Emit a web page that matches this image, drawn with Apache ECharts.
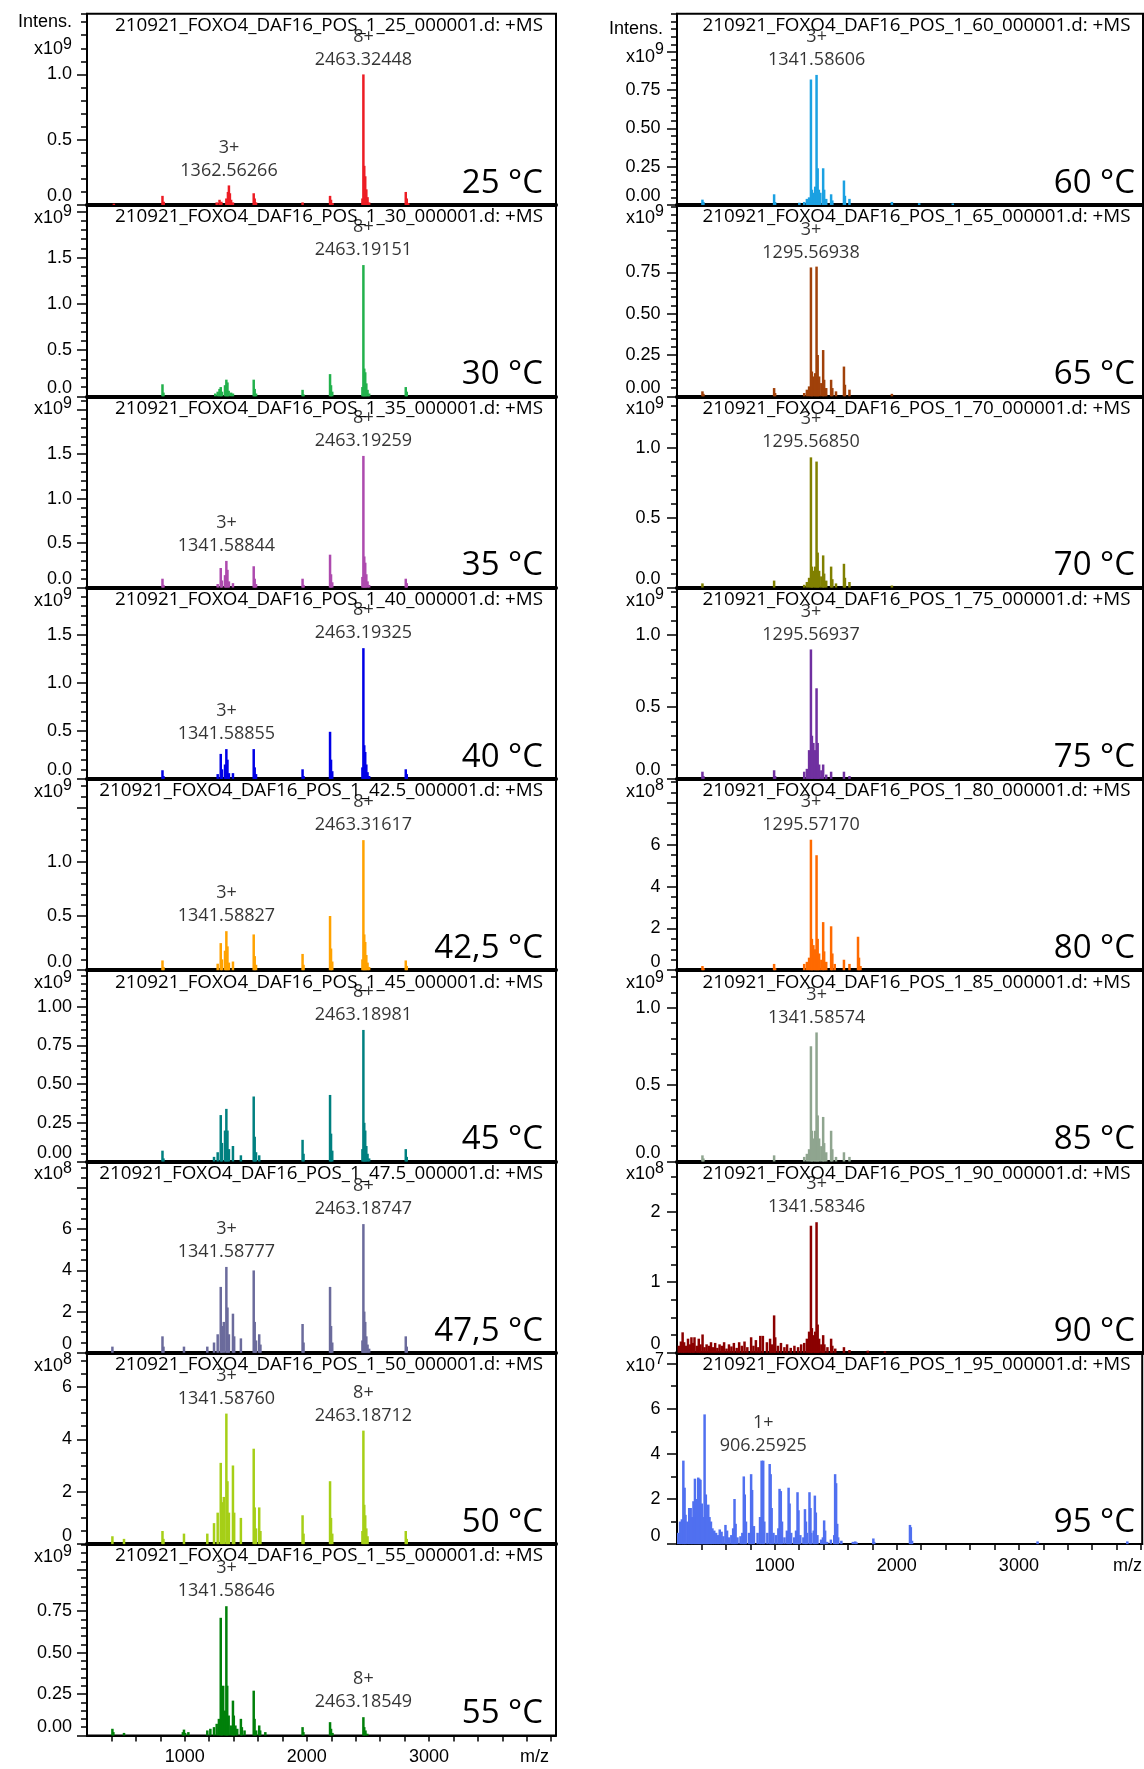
<!DOCTYPE html>
<html><head><meta charset="utf-8">
<script src="https://cdn.jsdelivr.net/npm/echarts@6/dist/echarts.min.js"></script>
<style>html,body{margin:0;padding:0;background:#fff}#c{width:1144px;height:1769px}</style>
</head><body><div id="c"></div><script>
// ---------- data ----------
const TEMPS_L = ['25','30','35','40','42.5','45','47.5','50','55'];
const TEMPS_R = ['60','65','70','75','80','85','90','95'];
const COLORS_L = ['#ed1c24','#22b14c','#ad4aae','#0000e6','#ffa200','#008080','#6b6b9c','#a6cf17','#00800a'];
const COLORS_R = ['#1ba1e2','#a0410a','#808000','#7030a0','#ff6a00','#8fa58f','#8b0000','#5070f0'];
// y axis: top value, labelled step, minor tick step, highest labelled value, power of ten
const YMAX_L = [1.465, 2.07, 2.15, 1.99, 1.765, 1.236, 9.29, 7.3, 1.155];
const YMAJ_L = [0.5, 0.5, 0.5, 0.5, 0.5, 0.25, 2, 2, 0.25];
const YMIN_L = [0.1, 0.1, 0.1, 0.1, 0.1, 0.05, 0.5, 0.5, 0.05];
const YLAB_L = [1.0, 1.5, 1.5, 1.5, 1.0, 1.0, 6, 6, 0.75];
const EXP_L  = [9, 9, 9, 9, 9, 9, 8, 8, 9];
const YMAX_R = [1.25, 1.158, 1.366, 1.33, 9.15, 1.245, 2.71, 8.48];
const YMAJ_R = [0.25, 0.25, 0.5, 0.5, 2, 0.5, 1, 2];
const YMIN_R = [0.05, 0.05, 0.1, 0.1, 0.5, 0.1, 0.25, 1];
const YLAB_R = [0.75, 0.75, 1.0, 1.0, 6, 1.0, 2, 6];
const EXP_R  = [9, 9, 9, 9, 8, 9, 8, 7];
const XTICKS = [1000, 2000, 3000];

// peaks: [m/z, intensity in axis units]
const peaks25 = [[420,0.01],[818,0.07],[828,0.025],[1262,0.02],[1285,0.04],[1300,0.025],[1341,0.05],[1354,0.1],[1362,0.15],[1370,0.09],[1380,0.04],[1395,0.02],[1565,0.09],[1573,0.05],[1584,0.02],[1965,0.02],[2190,0.07],[2198,0.04],[2210,0.015],[2455,0.05],[2463,1.0],[2470,0.3],[2478,0.22],[2487,0.12],[2497,0.06],[2510,0.02],[2810,0.1],[2818,0.05],[2830,0.015]];
const peaks30 = [[818,0.13],[826,0.04],[1250,0.03],[1270,0.05],[1285,0.08],[1295,0.1],[1305,0.05],[1330,0.12],[1341,0.18],[1350,0.15],[1360,0.06],[1380,0.04],[1395,0.03],[1565,0.18],[1573,0.08],[1584,0.03],[1965,0.07],[1973,0.02],[2190,0.24],[2198,0.12],[2208,0.05],[2455,0.1],[2463,1.42],[2470,0.3],[2478,0.26],[2487,0.14],[2497,0.07],[2510,0.03],[2810,0.1],[2818,0.05]];
const peaks35 = [[818,0.1],[826,0.03],[1270,0.04],[1295,0.22],[1305,0.08],[1330,0.14],[1341,0.3],[1350,0.2],[1362,0.07],[1395,0.05],[1565,0.24],[1573,0.1],[1584,0.04],[1965,0.1],[1973,0.03],[2190,0.37],[2198,0.15],[2208,0.06],[2455,0.12],[2463,1.48],[2470,0.35],[2478,0.28],[2487,0.15],[2497,0.07],[2510,0.03],[2810,0.1],[2818,0.05]];
const peaks40 = [[818,0.09],[826,0.03],[1270,0.05],[1295,0.26],[1305,0.1],[1330,0.15],[1341,0.31],[1350,0.2],[1362,0.06],[1395,0.06],[1565,0.31],[1573,0.12],[1584,0.05],[1965,0.1],[1973,0.03],[2190,0.49],[2198,0.2],[2208,0.08],[2455,0.12],[2463,1.36],[2470,0.35],[2478,0.28],[2487,0.15],[2497,0.07],[2510,0.03],[2810,0.1],[2818,0.05]];
const peaks425 = [[818,0.09],[826,0.03],[1270,0.06],[1295,0.25],[1305,0.1],[1330,0.18],[1341,0.36],[1350,0.22],[1362,0.07],[1395,0.08],[1565,0.33],[1573,0.13],[1584,0.05],[1965,0.15],[1973,0.05],[2190,0.5],[2198,0.2],[2208,0.08],[2455,0.1],[2463,1.2],[2470,0.33],[2478,0.26],[2487,0.14],[2497,0.07],[2510,0.03],[2810,0.09],[2818,0.04]];
const peaks45 = [[818,0.07],[826,0.02],[1240,0.03],[1270,0.06],[1295,0.3],[1305,0.12],[1330,0.2],[1341,0.34],[1350,0.2],[1362,0.08],[1395,0.1],[1460,0.04],[1565,0.42],[1573,0.16],[1584,0.06],[1610,0.04],[1965,0.14],[1973,0.05],[2190,0.43],[2198,0.18],[2208,0.07],[2455,0.08],[2463,0.85],[2470,0.25],[2478,0.2],[2487,0.1],[2497,0.05],[2510,0.02],[2810,0.08],[2818,0.03]];
const peaks475 = [[408,0.3],[818,0.8],[826,0.3],[994,0.3],[1185,0.3],[1240,0.5],[1270,0.9],[1295,3.2],[1305,1.3],[1320,1.5],[1341,4.17],[1350,2.2],[1362,0.9],[1395,1.9],[1405,0.8],[1460,0.7],[1565,4.0],[1573,1.5],[1584,0.6],[1610,0.9],[1620,0.4],[1965,1.4],[1973,0.5],[2190,3.2],[2198,1.3],[2208,0.5],[2455,0.6],[2463,6.25],[2470,2.0],[2478,1.5],[2487,0.8],[2497,0.4],[2510,0.2],[2810,0.8],[2818,0.3]];
const peaks50 = [[408,0.3],[503,0.2],[818,0.5],[826,0.2],[994,0.4],[1185,0.4],[1240,0.8],[1270,1.2],[1295,3.1],[1305,1.6],[1320,1.8],[1341,4.98],[1350,2.4],[1362,1.2],[1395,3.0],[1405,1.2],[1460,1.0],[1565,3.64],[1573,1.4],[1584,0.6],[1610,1.4],[1620,0.5],[1965,1.1],[1973,0.4],[2190,2.4],[2198,1.0],[2208,0.4],[2455,0.5],[2463,4.33],[2470,1.5],[2478,1.1],[2487,0.6],[2497,0.3],[2810,0.5],[2818,0.2]];
const peaks55 = [[408,0.04],[416,0.02],[503,0.015],[985,0.02],[994,0.035],[1003,0.015],[1030,0.02],[1185,0.03],[1210,0.04],[1240,0.05],[1262,0.07],[1280,0.1],[1295,0.71],[1302,0.2],[1315,0.3],[1330,0.15],[1341,0.78],[1348,0.3],[1360,0.12],[1378,0.06],[1395,0.21],[1402,0.12],[1415,0.06],[1430,0.04],[1460,0.1],[1468,0.05],[1490,0.03],[1565,0.27],[1572,0.1],[1585,0.03],[1610,0.06],[1618,0.03],[1660,0.02],[1965,0.05],[1972,0.02],[2190,0.08],[2198,0.04],[2210,0.015],[2463,0.11],[2470,0.05],[2480,0.03],[2495,0.01]];
const peaks60 = [[408,0.035],[416,0.02],[994,0.07],[1002,0.02],[1200,0.015],[1240,0.02],[1262,0.04],[1280,0.05],[1295,0.82],[1303,0.1],[1315,0.08],[1330,0.12],[1341,0.85],[1350,0.24],[1360,0.1],[1372,0.08],[1395,0.24],[1403,0.1],[1420,0.04],[1460,0.07],[1470,0.03],[1565,0.16],[1573,0.06],[1610,0.04],[1957,0.02],[2180,0.012],[2455,0.01]];
const peaks65 = [[408,0.03],[416,0.015],[994,0.05],[1002,0.02],[1240,0.02],[1262,0.04],[1280,0.06],[1295,0.78],[1303,0.15],[1315,0.12],[1330,0.14],[1341,0.785],[1350,0.25],[1362,0.12],[1380,0.08],[1395,0.28],[1403,0.1],[1420,0.05],[1460,0.1],[1470,0.05],[1500,0.03],[1565,0.18],[1573,0.07],[1610,0.04],[1957,0.015]];
const peaks70 = [[408,0.03],[994,0.05],[1240,0.02],[1262,0.04],[1280,0.07],[1295,0.93],[1303,0.15],[1315,0.12],[1330,0.15],[1341,0.9],[1350,0.25],[1362,0.12],[1380,0.08],[1395,0.23],[1403,0.1],[1420,0.05],[1460,0.15],[1470,0.06],[1500,0.03],[1565,0.17],[1573,0.07],[1610,0.04],[1957,0.015]];
const peaks75 = [[408,0.05],[416,0.02],[994,0.06],[1002,0.02],[1240,0.05],[1262,0.07],[1280,0.2],[1295,0.9],[1303,0.3],[1315,0.25],[1330,0.2],[1341,0.63],[1350,0.25],[1362,0.1],[1380,0.06],[1395,0.1],[1420,0.03],[1460,0.05],[1565,0.05],[1610,0.02]];
const peaks80 = [[408,0.2],[416,0.1],[994,0.3],[1002,0.1],[1240,0.3],[1262,0.4],[1280,0.6],[1295,6.24],[1303,1.5],[1315,1.2],[1330,1.0],[1341,5.5],[1350,1.5],[1362,0.8],[1380,0.5],[1395,2.3],[1403,0.9],[1420,0.4],[1460,2.1],[1470,0.8],[1490,0.3],[1565,0.5],[1610,0.3],[1680,1.6],[1688,0.6],[1700,0.2]];
const peaks85 = [[408,0.04],[416,0.02],[994,0.04],[1240,0.03],[1262,0.05],[1280,0.08],[1295,0.75],[1303,0.2],[1315,0.15],[1330,0.2],[1341,0.84],[1350,0.3],[1362,0.15],[1380,0.1],[1395,0.29],[1403,0.12],[1420,0.06],[1460,0.2],[1470,0.08],[1500,0.03],[1565,0.06],[1610,0.03]];
const peaks90 = [[215,0.1],[232,0.16],[246,0.29],[258,0.15],[272,0.1],[290,0.2],[305,0.12],[318,0.22],[332,0.14],[343,0.22],[362,0.1],[378,0.2],[392,0.12],[409,0.26],[425,0.08],[442,0.12],[460,0.1],[478,0.15],[495,0.08],[512,0.14],[530,0.07],[548,0.12],[566,0.1],[585,0.15],[605,0.06],[625,0.12],[645,0.09],[665,0.14],[688,0.07],[708,0.15],[730,0.1],[752,0.16],[775,0.08],[806,0.22],[825,0.1],[845,0.18],[865,0.08],[881,0.24],[902,0.24],[935,0.15],[961,0.2],[975,0.12],[994,0.53],[1003,0.22],[1025,0.1],[1050,0.14],[1078,0.08],[1100,0.12],[1130,0.07],[1160,0.1],[1190,0.08],[1215,0.12],[1240,0.14],[1262,0.2],[1280,0.3],[1295,1.8],[1303,0.35],[1318,0.25],[1330,0.3],[1341,1.85],[1350,0.4],[1362,0.2],[1380,0.12],[1395,0.25],[1405,0.12],[1430,0.08],[1460,0.2],[1470,0.1],[1494,0.06],[1565,0.08],[1610,0.04],[1760,0.03],[1900,0.02]];
const peaks95 = [[210,0.5],[225,1.0],[240,1.1],[252,3.7],[262,2.5],[270,1.3],[285,1.0],[300,1.6],[312,1.6],[325,1.2],[335,1.9],[347,2.9],[355,2.0],[365,1.4],[374,2.95],[383,2.9],[392,2.85],[403,1.8],[415,1.2],[426,5.75],[436,2.2],[445,1.3],[456,1.75],[466,1.2],[478,1.0],[490,0.7],[505,0.6],[520,0.5],[535,0.4],[550,0.65],[565,0.55],[580,0.35],[597,0.85],[610,0.6],[625,0.3],[645,0.4],[660,0.7],[671,2.0],[680,0.9],[695,0.3],[720,0.35],[735,0.5],[747,3.0],[755,2.2],[765,1.0],[790,0.5],[807,3.1],[815,2.4],[830,0.8],[860,0.5],[880,1.2],[893,3.7],[906,3.7],[915,1.0],[940,0.5],[959,3.55],[967,3.1],[975,1.6],[990,0.5],[1010,0.4],[1030,0.7],[1040,2.45],[1050,2.35],[1060,1.0],[1080,0.3],[1100,0.6],[1114,2.5],[1122,1.8],[1135,0.5],[1160,0.3],[1175,0.6],[1187,2.3],[1195,1.5],[1210,0.4],[1235,0.3],[1248,1.55],[1256,1.0],[1264,0.5],[1285,2.3],[1293,1.6],[1300,0.5],[1320,0.6],[1329,2.15],[1337,1.4],[1350,0.4],[1380,0.2],[1395,0.3],[1405,1.05],[1413,0.6],[1430,0.1],[1460,0.2],[1488,0.4],[1495,3.1],[1503,2.7],[1512,0.9],[1520,0.3],[1546,0.15],[1640,0.1],[1660,0.12],[1670,0.08],[1808,0.25],[1815,0.1],[2108,0.85],[2115,0.75],[2125,0.15],[3153,0.12],[3888,0.12]];

// annotations: [m/z, charge, label]
const ann25 = [[1362.56266,'3+','1362.56266'],[2463.32448,'8+','2463.32448']];
const ann30 = [[2463.19151,'8+','2463.19151']];
const ann35 = [[1341.58844,'3+','1341.58844'],[2463.19259,'8+','2463.19259']];
const ann40 = [[1341.58855,'3+','1341.58855'],[2463.19325,'8+','2463.19325']];
const ann425 = [[1341.58827,'3+','1341.58827'],[2463.31617,'8+','2463.31617']];
const ann45 = [[2463.18981,'8+','2463.18981']];
const ann475 = [[1341.58777,'3+','1341.58777'],[2463.18747,'8+','2463.18747']];
const ann50 = [[1341.58760,'3+','1341.58760'],[2463.18712,'8+','2463.18712']];
const ann55 = [[1341.58646,'3+','1341.58646'],[2463.18549,'8+','2463.18549']];
const ann60 = [[1341.58606,'3+','1341.58606']];
const ann65 = [[1295.56938,'3+','1295.56938']];
const ann70 = [[1295.56850,'3+','1295.56850']];
const ann75 = [[1295.56937,'3+','1295.56937']];
const ann80 = [[1295.57170,'3+','1295.57170']];
const ann85 = [[1341.58574,'3+','1341.58574']];
const ann90 = [[1341.58346,'3+','1341.58346']];
const ann95 = [[906.25925,'1+','906.25925']];

const PEAKS_L = [peaks25,peaks30,peaks35,peaks40,peaks425,peaks45,peaks475,peaks50,peaks55];
const PEAKS_R = [peaks60,peaks65,peaks70,peaks75,peaks80,peaks85,peaks90,peaks95];
const ANN_L = [ann25,ann30,ann35,ann40,ann425,ann45,ann475,ann50,ann55];
const ANN_R = [ann60,ann65,ann70,ann75,ann80,ann85,ann90,ann95];

// ---------- layout ----------
const PITCH = 191.3, TOP0 = 13.7;
const COLS = [
  {left: 87, width: 469, xmax: 4040, labMargin: 15, titleGap: 13, tempGap: 13, supRight: 72, intensRight: 72, intensDy: 8.3, x10Dy: 35.6, supDy: 31.3},
  {left: 677, width: 466, xmax: 4010, labMargin: 16.5, titleGap: 12.5, tempGap: 8, supRight: 664, intensRight: 663, intensDy: 15.6, x10Dy: 43.3, supDy: 36.3}
];
const LAB_FONT = 'Liberation Sans, Arial, sans-serif';
const TXT_FONT = '"Open Sans", "Noto Sans", sans-serif';
const INK = '#000';

const panels = [];
TEMPS_L.forEach((t, i) => panels.push({col: 0, row: i, t, color: COLORS_L[i], peaks: PEAKS_L[i], ann: ANN_L[i], ymax: YMAX_L[i], maj: YMAJ_L[i], mnr: YMIN_L[i], ylab: YLAB_L[i], exp: EXP_L[i], last: i === TEMPS_L.length - 1}));
TEMPS_R.forEach((t, i) => panels.push({col: 1, row: i, t, color: COLORS_R[i], peaks: PEAKS_R[i], ann: ANN_R[i], ymax: YMAX_R[i], maj: YMAJ_R[i], mnr: YMIN_R[i], ylab: YLAB_R[i], exp: EXP_R[i], last: i === TEMPS_R.length - 1}));

const option = {animation: false, backgroundColor: '#fff', grid: [], xAxis: [], yAxis: [], series: [], graphic: []};

function txt(x, y, text, font, align) {
  return {type: 'text', x: x, y: y, silent: true, z: 100,
    style: {text: text, font: font, fill: INK, align: align, verticalAlign: 'middle', textAlign: align, textVerticalAlign: 'middle'}};
}

panels.forEach((p, k) => {
  const C = COLS[p.col];
  const top = TOP0 + p.row * PITCH;
  const bottom = top + PITCH;
  const right = C.left + C.width;
  const dec = p.maj >= 1 ? 0 : (p.maj === 0.25 ? 2 : 1);
  option.grid.push({left: C.left, top: top, width: C.width, height: PITCH, show: true, borderColor: '#000', borderWidth: 2, backgroundColor: 'transparent'});
  option.xAxis.push({type: 'value', gridIndex: k, min: 200, max: C.xmax, interval: 200,
    axisLine: {show: true, onZero: false, lineStyle: {color: '#000', width: p.last ? 2 : 4}},
    axisTick: {show: p.last, length: 6, lineStyle: {color: '#000', width: 1.5}},
    axisLabel: {show: p.last, showMaxLabel: false, showMinLabel: false, margin: 13, color: INK, fontSize: 18, fontFamily: LAB_FONT,
      formatter: v => XTICKS.some(t => Math.abs(t - v) < 1e-6) ? String(Math.round(v)) : ''},
    splitLine: {show: false}});
  option.yAxis.push({type: 'value', gridIndex: k, position: 'left', min: 0, max: p.ymax, interval: p.maj,
    axisLine: {show: true, onZero: false, lineStyle: {color: '#000', width: 2}},
    axisTick: {show: true, length: 10, lineStyle: {color: '#000', width: 1.5}},
    axisLabel: {show: true, showMaxLabel: false, margin: C.labMargin, color: INK, fontSize: 18, fontFamily: LAB_FONT,
      formatter: v => Math.abs(v) < 1e-9 ? '{z|' + (0).toFixed(dec) + '}' : (v > p.ylab + 1e-9 ? '' : v.toFixed(dec)),
      rich: {z: {fontSize: 18, fontFamily: LAB_FONT, color: INK, padding: [0, 0, 17, 0]}}},
    splitLine: {show: false}});
  option.yAxis.push({type: 'value', gridIndex: k, position: 'left', min: 0, max: p.ymax, interval: p.mnr,
    axisLine: {show: false}, axisTick: {show: true, length: 6, lineStyle: {color: '#000', width: 1.5}},
    axisLabel: {show: false}, splitLine: {show: false}});
  option.series.push({type: 'bar', xAxisIndex: k, yAxisIndex: 2 * k, data: p.peaks, barWidth: 2.5, silent: true,
    itemStyle: {color: p.color}, clip: true});
  const annData = p.ann.map(a => {
    let best = p.peaks[0];
    p.peaks.forEach(q => { if (Math.abs(q[0] - a[0]) < Math.abs(best[0] - a[0])) best = q; });
    return [a[0], best[1], a[1], a[2]];
  });
  option.series.push({type: 'scatter', xAxisIndex: k, yAxisIndex: 2 * k, data: annData, symbolSize: 1, silent: true, z: 5,
    itemStyle: {color: 'transparent'},
    label: {show: true, position: 'top', distance: 3, color: INK, fontSize: 18, lineHeight: 23, fontFamily: TXT_FONT,
      formatter: q => q.data[2] + '\n' + q.data[3]}});
  // texts
  const tname = p.t;
  option.graphic.push(txt(right - C.titleGap, top + 12, '210921_FOXO4_DAF16_POS_1_' + tname + '_000001.d: +MS', '18.8px ' + TXT_FONT, 'right'));
  option.graphic.push(txt(right - C.tempGap, bottom - 21.7, tname.replace('.', ',') + ' °C', '33px ' + TXT_FONT, 'right'));
  const first = p.row === 0;
  if (first) option.graphic.push(txt(C.intensRight, top + C.intensDy, 'Intens.', '18px ' + LAB_FONT, 'right'));
  const x10y = first ? top + C.x10Dy : top + 13;
  const supy = first ? top + C.supDy : top + 7;
  option.graphic.push(txt(C.supRight, supy, String(p.exp), '16px ' + LAB_FONT, 'right'));
  option.graphic.push(txt(C.supRight - 9, x10y, 'x10', '18px ' + LAB_FONT, 'right'));
  if (p.last) option.graphic.push(txt(p.col === 0 ? 549 : 1142, bottom + 22, 'm/z', '18px ' + LAB_FONT, 'right'));
});

const chart = echarts.init(document.getElementById('c'), null, {renderer: 'canvas'});
chart.setOption(option);
</script></body></html>
